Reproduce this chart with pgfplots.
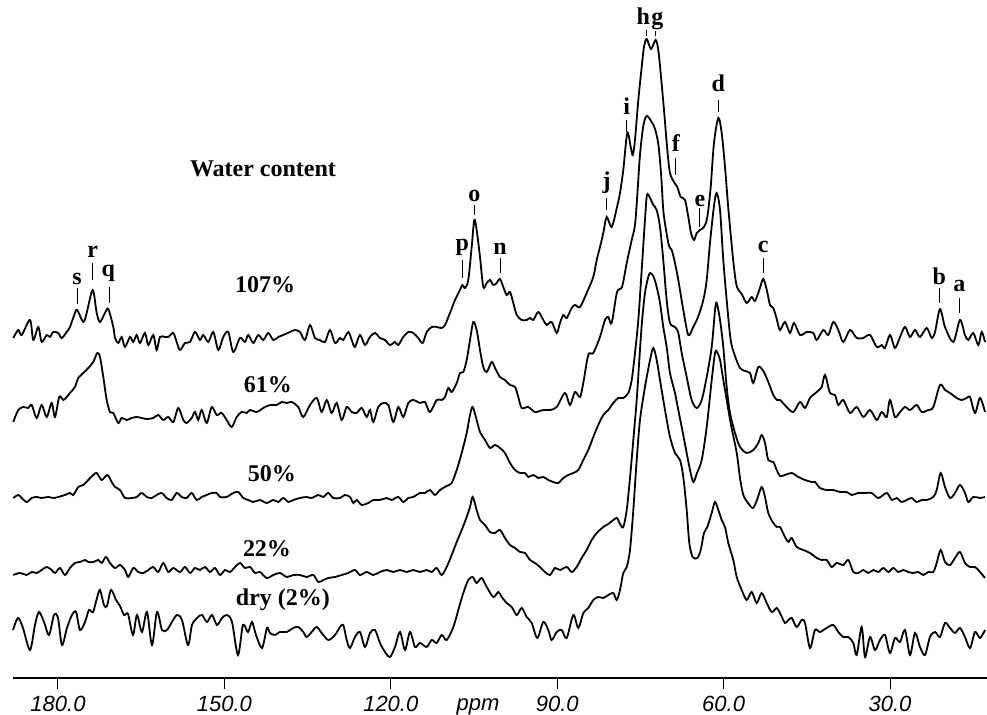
\documentclass[border=0pt]{standalone}
\usepackage{fontspec}
\setmainfont{Liberation Serif}
\setsansfont{Liberation Sans}
\usepackage{pgfplots}
\pgfplotsset{compat=1.18}
\pgfplotsset{trace/.style={black, line width=0.9pt, smooth, tension=0.5, mark=none}}
\begin{document}
\begin{tikzpicture}
\begin{axis}[
  scale only axis, width=487pt, height=339pt,
  xmin=12.52, xmax=188.11, ymin=37, ymax=715,
  x dir=reverse,
  axis x line*=bottom, axis y line=none,
  x axis line style={line width=1pt},
  xtick={30,60,90,120,150,180},
  xticklabels={30.0,60.0,90.0,120.0,150.0,180.0},
  tick align=outside, major tick length=5.5pt,
  xtick style={line width=0.5pt, black},
  ticklabel style={font=\sffamily\itshape\fontsize{11}{13}\selectfont},
  clip=false,
]
% 107%
\addplot[trace] coordinates {(188.06,377)(187.16,385)(186.54,380)(185.05,395)(184.45,375)(183.55,388)(182.94,373)(182.04,380)(181.44,378)(180.85,383)(179.95,382)(179.33,377)(178.43,383)(177.84,388)(176.94,402)(176.52,405)(175.44,393)(174.83,402)(173.74,425)(173.02,402)(172.43,393)(171.53,402)(170.93,406)(170.03,388)(169.72,377)(169.13,372)(168.52,378)(167.92,368)(167.02,378)(166.43,373)(165.81,380)(165.22,372)(164.32,382)(163.72,370)(162.82,380)(162.21,365)(161.61,378)(160.71,378)(160.12,378)(159.21,382)(158.60,373)(158.01,365)(157.10,372)(156.20,373)(155.30,383)(154.40,375)(153.81,380)(152.90,373)(152.00,383)(151.10,365)(150.20,378)(149.30,383)(148.40,363)(147.19,377)(146.29,373)(145.69,380)(144.79,372)(143.89,380)(142.99,375)(142.09,382)(141.19,375)(140.28,378)(139.38,380)(138.18,383)(137.27,385)(136.37,383)(135.47,375)(134.57,390)(133.67,377)(132.77,375)(131.87,373)(130.96,385)(130.06,372)(129.16,377)(128.57,375)(127.66,383)(127.05,375)(126.46,368)(125.56,380)(124.65,370)(123.75,378)(122.85,382)(121.95,377)(121.05,375)(120.15,370)(119.25,373)(118.65,370)(117.75,378)(116.85,383)(115.95,382)(115.05,377)(114.25,372)(113.53,383)(112.63,388)(111.73,388)(110.83,387)(110.23,390)(109.33,402)(108.43,415)(107.53,425)(107.11,430)(106.63,427)(106.03,435)(105.42,468)(104.95,495)(104.52,485)(103.92,458)(103.33,428)(102.71,432)(102.12,435)(101.52,430)(100.91,432)(100.32,436)(99.72,428)(99.11,420)(98.51,423)(97.92,412)(97.30,400)(96.40,395)(95.50,395)(94.91,397)(94.31,395)(93.41,403)(92.51,395)(91.90,390)(91.00,393)(90.09,382)(89.50,392)(88.90,400)(88.29,397)(87.39,407)(86.80,410)(85.89,408)(84.69,422)(83.50,438)(82.88,455)(82.29,468)(81.69,482)(81.08,498)(80.18,488)(79.22,508)(78.68,522)(78.09,545)(77.37,582)(76.75,568)(76.39,560)(75.98,575)(75.38,615)(74.77,648)(74.36,668)(73.87,676)(73.09,666)(72.25,675)(71.78,665)(71.35,642)(70.75,605)(70.15,565)(69.67,542)(68.95,533)(68.35,528)(67.74,518)(66.96,515)(66.37,498)(65.88,482)(65.34,475)(64.85,482)(64.26,485)(63.54,488)(62.94,498)(62.33,528)(61.74,572)(60.96,597)(60.35,582)(59.75,548)(59.16,507)(58.26,454)(57.64,429)(56.74,421)(55.84,412)(54.94,418)(54.35,414)(53.57,425)(52.85,436)(52.18,424)(51.64,410)(51.05,407)(50.43,396)(49.84,385)(48.94,393)(48.03,382)(47.31,392)(46.23,380)(45.02,383)(43.83,382)(43.22,375)(42.03,385)(41.13,380)(40.23,393)(39.33,385)(38.43,373)(37.22,385)(36.01,377)(34.82,377)(33.61,380)(32.40,368)(31.50,370)(30.91,367)(30.01,380)(29.11,367)(28.20,378)(27.30,388)(26.40,378)(25.50,385)(24.60,378)(23.39,387)(22.49,377)(21.89,383)(20.99,406)(20.09,388)(18.60,373)(17.39,395)(16.49,380)(15.89,375)(14.99,382)(14.09,370)(13.47,383)(12.88,373)};
% 61%
\addplot[trace] coordinates {(188.06,293)(187.16,305)(186.26,308)(185.36,307)(184.74,310)(183.84,297)(182.94,310)(182.04,298)(181.14,312)(180.54,298)(179.77,318)(179.04,315)(178.43,318)(177.84,322)(176.94,328)(176.34,337)(175.44,342)(174.54,347)(173.64,353)(172.91,362)(172.43,358)(171.83,338)(171.22,315)(170.63,303)(170.03,302)(169.13,292)(168.52,297)(167.61,295)(166.71,297)(165.81,298)(164.91,297)(164.01,296)(162.82,297)(161.92,300)(161.02,295)(160.12,298)(159.21,293)(158.31,307)(157.41,295)(156.80,292)(155.90,297)(155.30,303)(154.71,295)(154.09,305)(153.19,292)(152.29,308)(151.39,300)(150.49,302)(149.59,295)(148.68,288)(147.78,298)(146.88,303)(145.98,302)(145.38,305)(144.18,303)(142.99,307)(141.78,310)(140.57,310)(139.67,313)(138.77,312)(137.87,313)(136.68,308)(135.78,298)(134.57,310)(133.36,317)(132.46,303)(131.56,315)(130.66,302)(129.76,312)(128.85,295)(127.95,308)(127.05,303)(126.15,302)(125.25,307)(124.35,298)(123.75,305)(123.16,293)(122.26,308)(121.35,312)(120.45,310)(119.55,293)(118.65,308)(117.75,298)(116.85,312)(115.95,315)(114.74,312)(113.84,313)(112.94,303)(111.73,315)(110.83,315)(110.23,318)(109.64,327)(109.02,323)(108.12,332)(107.53,342)(106.93,343)(106.32,355)(105.72,375)(105.13,393)(104.52,385)(103.92,365)(103.33,348)(102.71,343)(101.81,353)(101.22,347)(100.32,338)(99.42,335)(98.51,330)(97.61,328)(97.02,318)(96.40,307)(95.21,308)(94.01,303)(92.51,305)(91.30,305)(90.09,308)(88.60,322)(87.70,310)(86.80,323)(85.89,318)(85.30,332)(84.40,360)(83.50,362)(82.29,378)(81.39,395)(80.79,398)(80.18,392)(79.22,423)(78.32,428)(77.47,452)(76.57,475)(75.98,490)(75.56,520)(75.08,560)(74.48,589)(73.87,599)(72.97,593)(72.37,586)(71.78,571)(71.29,542)(70.88,505)(70.44,487)(69.85,469)(69.36,465)(68.77,452)(68.17,435)(67.27,405)(66.37,380)(65.47,388)(64.62,398)(63.66,415)(63.05,435)(62.46,472)(61.74,509)(61.25,522)(60.65,505)(60.06,455)(59.45,415)(58.73,375)(57.95,359)(57.05,347)(56.14,344)(55.24,342)(54.65,332)(53.75,348)(52.85,344)(51.95,333)(51.05,320)(50.38,315)(49.84,315)(48.63,308)(47.44,303)(46.23,313)(45.33,307)(44.43,317)(43.22,323)(42.32,328)(41.72,340)(40.82,322)(39.92,320)(39.33,310)(38.43,315)(37.22,302)(36.01,308)(34.82,298)(33.61,305)(32.40,295)(31.50,303)(30.60,298)(30.01,315)(29.11,298)(28.20,303)(27.30,308)(26.40,305)(25.20,310)(24.29,303)(23.10,305)(22.20,308)(20.99,330)(20.09,325)(19.19,322)(17.98,317)(17.08,315)(16.18,317)(15.58,318)(14.68,302)(13.78,317)(12.88,303)};
% 50%
\addplot[trace] coordinates {(188.06,217)(187.16,220)(186.54,217)(185.64,213)(184.74,217)(183.84,218)(182.94,217)(181.75,218)(180.85,217)(179.95,218)(178.74,220)(177.84,222)(177.24,220)(176.34,228)(175.44,230)(174.54,235)(173.64,240)(173.02,242)(172.12,235)(171.11,240)(170.31,233)(169.72,228)(168.82,225)(167.92,217)(166.71,217)(165.81,218)(164.91,222)(164.01,218)(163.11,217)(162.21,220)(161.30,222)(160.40,217)(159.50,215)(158.60,222)(157.70,218)(156.80,217)(155.90,222)(154.99,215)(154.09,218)(153.19,220)(152.29,222)(151.39,222)(150.79,218)(149.59,218)(148.40,222)(147.50,223)(146.59,217)(145.69,215)(144.79,213)(143.58,215)(142.38,212)(141.19,215)(140.28,213)(139.38,217)(138.48,213)(137.58,215)(136.37,217)(135.17,218)(134.26,217)(133.07,220)(132.17,218)(131.27,222)(130.37,217)(129.16,217)(128.26,220)(127.36,218)(126.76,212)(126.15,215)(125.25,210)(124.06,212)(123.16,215)(121.95,215)(120.74,217)(119.84,215)(118.65,218)(117.75,213)(116.85,217)(115.95,218)(114.74,222)(113.84,222)(112.94,225)(112.03,220)(111.13,225)(109.93,229)(109.02,232)(108.12,245)(107.22,262)(106.32,282)(105.72,300)(105.24,308)(104.52,295)(103.92,283)(103.02,275)(102.12,267)(101.22,270)(100.32,267)(99.42,262)(98.51,252)(97.61,245)(96.71,242)(95.81,242)(95.21,238)(94.31,240)(93.41,237)(92.51,238)(91.61,235)(90.71,233)(89.81,232)(88.90,237)(88.00,240)(87.10,242)(86.20,245)(85.30,255)(84.40,265)(83.50,278)(82.60,290)(81.69,300)(80.79,305)(79.89,312)(78.99,317)(78.09,317)(77.19,322)(76.57,335)(75.98,362)(75.38,395)(74.77,445)(74.18,495)(73.82,520)(73.27,517)(72.68,510)(72.07,505)(71.47,488)(70.88,455)(70.27,415)(69.67,392)(68.77,388)(68.17,382)(67.56,362)(66.66,338)(65.76,315)(64.85,307)(63.95,315)(63.05,338)(62.15,368)(61.55,405)(61.25,412)(60.65,395)(60.06,368)(59.45,328)(58.85,302)(57.95,282)(57.05,268)(55.84,262)(54.65,265)(53.75,272)(53.14,280)(52.54,272)(51.95,255)(51.05,253)(50.43,245)(49.84,239)(48.94,240)(47.73,242)(46.54,238)(45.33,235)(44.12,233)(43.53,233)(42.63,227)(41.42,225)(40.23,225)(39.02,223)(37.81,223)(36.91,220)(35.72,222)(34.51,222)(33.31,222)(32.11,217)(30.60,222)(29.70,215)(28.80,217)(27.90,213)(26.99,215)(26.09,217)(25.20,213)(24.29,215)(23.39,215)(22.20,218)(21.59,225)(20.87,242)(20.09,228)(19.19,217)(18.29,222)(17.39,230)(16.49,222)(15.89,213)(14.99,218)(13.78,217)(12.88,218)};
% 22%
\addplot[trace] coordinates {(188.06,140)(186.85,142)(185.64,140)(184.74,143)(183.84,142)(182.94,145)(182.04,148)(181.14,145)(180.54,142)(179.64,147)(178.74,140)(177.84,147)(176.94,152)(176.03,153)(175.13,155)(174.54,153)(173.64,153)(172.73,155)(172.12,152)(171.35,158)(170.63,152)(169.72,147)(168.82,150)(167.92,145)(167.33,138)(166.42,147)(165.52,143)(164.62,142)(163.72,145)(162.82,148)(161.92,143)(161.02,152)(160.12,143)(159.21,147)(158.01,143)(157.10,148)(156.20,142)(155.30,147)(154.40,145)(153.50,148)(152.60,143)(151.70,147)(150.79,140)(149.89,145)(148.99,143)(148.09,148)(147.19,152)(146.29,147)(145.38,148)(144.48,142)(143.58,143)(142.38,137)(141.19,140)(139.98,142)(138.77,138)(137.58,140)(136.37,140)(135.17,138)(133.97,140)(133.07,133)(132.17,135)(131.27,137)(130.06,138)(128.85,140)(127.66,142)(126.46,145)(125.56,140)(124.35,143)(123.16,140)(121.95,143)(120.74,145)(119.55,143)(118.34,145)(117.14,143)(115.95,145)(114.74,143)(113.53,145)(112.63,143)(111.73,147)(110.83,140)(109.93,148)(109.02,160)(108.12,173)(107.22,185)(106.32,198)(105.72,208)(105.24,218)(104.52,205)(103.92,195)(103.02,190)(102.12,183)(101.22,182)(100.32,185)(99.42,177)(98.51,170)(97.61,167)(96.71,163)(95.81,162)(94.91,155)(94.01,152)(93.11,148)(92.21,143)(91.30,140)(90.40,147)(89.50,145)(88.29,148)(87.39,143)(86.49,148)(85.59,157)(84.69,165)(83.78,175)(82.88,182)(81.69,188)(80.79,191)(79.89,195)(79.22,197)(78.68,191)(78.09,188)(77.47,205)(76.88,237)(76.28,275)(75.67,315)(75.20,355)(74.72,393)(74.18,422)(73.63,437)(73.27,442)(72.68,439)(72.07,428)(71.47,412)(70.88,388)(70.27,368)(69.67,342)(68.77,322)(68.17,305)(67.56,288)(66.66,262)(66.06,245)(65.47,233)(64.80,242)(63.95,255)(63.05,288)(62.15,335)(61.55,362)(61.19,363)(60.65,355)(60.06,335)(59.45,315)(58.67,290)(57.64,262)(57.05,237)(56.45,220)(55.61,212)(54.71,207)(53.99,215)(53.14,228)(52.54,218)(51.95,202)(51.05,192)(50.38,188)(49.84,188)(48.94,178)(48.34,173)(47.73,177)(46.83,168)(45.64,165)(44.43,162)(43.22,157)(42.32,155)(41.42,155)(40.52,148)(39.62,152)(38.43,150)(37.52,155)(36.62,143)(35.72,142)(34.82,145)(33.92,142)(33.02,145)(32.11,143)(31.21,147)(30.31,143)(29.41,147)(28.51,143)(27.61,145)(26.71,143)(25.81,142)(24.90,143)(24.00,140)(23.10,143)(22.20,143)(21.59,152)(20.87,165)(20.09,153)(19.19,150)(18.29,157)(17.39,163)(16.49,152)(15.58,148)(14.68,148)(13.78,143)(12.88,137)};
% dry (2%)
\addplot[trace] coordinates {(188.11,85)(187.21,97)(186.31,87)(185.05,65)(184.15,90)(183.43,103)(182.52,93)(181.62,80)(180.72,100)(180.00,97)(179.28,70)(178.38,87)(177.48,100)(176.75,103)(176.03,85)(175.13,93)(174.41,105)(173.69,103)(172.97,117)(172.43,125)(171.71,110)(171.17,109)(170.44,125)(169.54,115)(168.82,109)(168.10,100)(167.38,101)(166.48,80)(165.76,100)(164.86,83)(163.96,103)(163.05,70)(162.15,103)(161.25,85)(160.35,85)(159.45,93)(158.55,100)(157.65,95)(156.56,70)(155.84,90)(154.94,97)(154.04,100)(153.14,93)(152.24,100)(151.34,90)(150.43,97)(149.53,100)(148.63,93)(147.55,60)(146.65,90)(145.75,83)(145.03,93)(144.30,80)(143.22,67)(142.32,87)(141.78,82)(140.88,80)(139.98,83)(138.77,83)(137.58,87)(136.68,88)(135.78,83)(135.17,78)(134.26,83)(133.36,88)(132.46,82)(131.27,75)(130.06,80)(129.16,88)(128.57,90)(127.95,75)(127.36,67)(126.46,78)(125.56,83)(124.65,68)(123.75,82)(122.85,85)(121.95,72)(121.05,63)(120.15,58)(119.25,68)(118.34,83)(117.44,65)(116.54,83)(115.64,68)(114.74,72)(113.53,68)(112.63,75)(111.73,72)(110.83,80)(109.93,75)(108.73,88)(107.83,105)(106.93,122)(106.03,135)(105.24,138)(104.52,132)(103.62,137)(102.71,128)(101.52,118)(100.62,123)(100.01,118)(99.11,112)(98.21,108)(97.30,100)(96.40,107)(95.50,98)(94.60,92)(93.59,77)(92.51,93)(91.61,85)(91.00,75)(90.09,83)(89.19,85)(88.29,77)(87.10,100)(86.20,87)(85.30,102)(84.40,107)(83.50,115)(82.60,118)(81.69,117)(80.79,120)(79.89,122)(79.28,115)(78.68,125)(78.09,142)(77.47,148)(76.88,165)(76.28,205)(75.67,255)(75.08,295)(74.18,328)(73.27,355)(72.68,367)(72.07,355)(71.47,335)(70.57,305)(69.67,278)(68.77,262)(67.87,255)(67.27,238)(66.66,205)(66.19,172)(65.58,158)(64.75,157)(64.13,165)(63.54,182)(62.94,188)(62.15,202)(61.56,213)(60.96,205)(60.35,195)(59.75,188)(59.16,172)(58.26,155)(57.64,138)(56.74,125)(55.84,115)(54.94,123)(54.04,112)(53.14,122)(52.24,112)(51.33,103)(50.43,107)(49.84,102)(48.94,92)(48.34,95)(47.73,97)(46.83,88)(45.93,95)(45.33,92)(44.43,67)(43.53,85)(42.63,83)(41.42,87)(40.23,90)(39.33,83)(38.43,78)(37.52,78)(36.62,72)(36.01,60)(35.11,88)(34.51,58)(33.61,78)(32.71,65)(31.81,75)(30.91,80)(30.01,62)(29.11,77)(28.20,73)(27.30,85)(26.40,60)(25.50,82)(24.60,68)(23.70,60)(22.80,78)(21.89,83)(20.99,78)(20.09,92)(19.19,87)(18.29,82)(17.39,87)(16.49,78)(15.58,67)(14.68,83)(13.78,77)(12.88,85)};

% labels
\begin{scope}[every node/.style={font=\bfseries\fontsize{12}{14}\selectfont, anchor=base, inner sep=0pt}]
\node at (axis cs:143.04,538) {Water content};
\node at (axis cs:142.68,422) {107\%};
\node at (axis cs:142.14,322) {61\%};
\node at (axis cs:141.42,233) {50\%};
\node at (axis cs:142.32,158) {22\%};
\node at (axis cs:139.44,109) {dry (2\%)};
\node at (axis cs:176.57,430) {s};
\node at (axis cs:173.74,457) {r};
\node at (axis cs:170.93,438) {q};
\node at (axis cs:107.11,464) {p};
\node at (axis cs:104.95,513) {o};
\node at (axis cs:100.32,460) {n};
\node at (axis cs:81.08,526) {j};
\node at (axis cs:77.47,600) {i};
\node at (axis cs:74.48,690) {h};
\node at (axis cs:71.96,690) {g};
\node at (axis cs:68.59,563) {f};
\node at (axis cs:64.26,508) {e};
\node at (axis cs:60.96,623) {d};
\node at (axis cs:52.85,462) {c};
\node at (axis cs:21.12,430) {b};
\node at (axis cs:17.51,423) {a};
\end{scope}
\begin{scope}[line width=0.4pt]
\draw (axis cs:176.57,427) -- (axis cs:176.57,411);
\draw (axis cs:173.74,452) -- (axis cs:173.74,435);
\draw (axis cs:170.75,428) -- (axis cs:170.75,412);
\draw (axis cs:107.11,455) -- (axis cs:107.11,437);
\draw (axis cs:104.95,510) -- (axis cs:104.95,500);
\draw (axis cs:100.32,457) -- (axis cs:100.32,442);
\draw (axis cs:81.08,517) -- (axis cs:81.08,505);
\draw (axis cs:77.47,595) -- (axis cs:77.47,583);
\draw (axis cs:73.87,685) -- (axis cs:73.87,679);
\draw (axis cs:72.25,684) -- (axis cs:72.25,679);
\draw (axis cs:68.77,557) -- (axis cs:68.77,540);
\draw (axis cs:64.44,507) -- (axis cs:64.44,488);
\draw (axis cs:60.96,615) -- (axis cs:60.96,603);
\draw (axis cs:52.85,457) -- (axis cs:52.85,442);
\draw (axis cs:21.12,427) -- (axis cs:21.12,412);
\draw (axis cs:17.51,417) -- (axis cs:17.51,402);
\end{scope}
\node[font=\sffamily\itshape\fontsize{11}{13}\selectfont, anchor=base, inner sep=0pt] at (axis cs:104.28,4) {ppm};
\coordinate (bbA) at (axis cs:190.456,0);
\coordinate (bbB) at (axis cs:12.52,715);
\end{axis}
\pgfresetboundingbox
\useasboundingbox (bbA) rectangle (bbB);
\end{tikzpicture}
\end{document}
